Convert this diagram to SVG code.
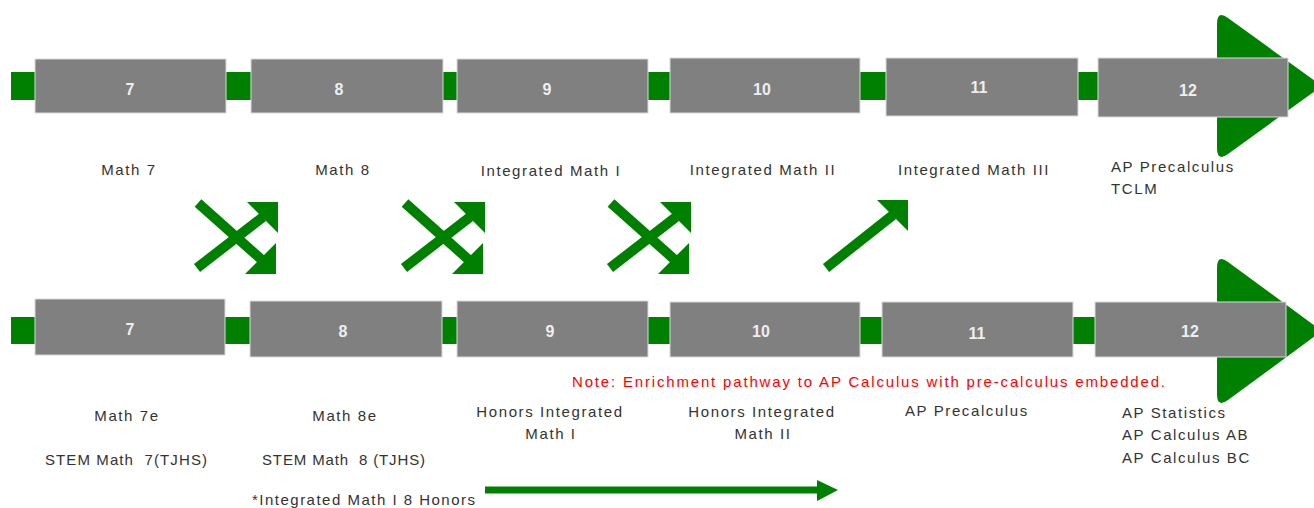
<svg xmlns="http://www.w3.org/2000/svg" width="1314" height="508" viewBox="0 0 1314 508">
<style>
.bar{fill:#008000}
.box{fill:#808080;stroke:#d9d9d9;stroke-width:1}
.num{font-family:"Liberation Sans",Arial,sans-serif;font-size:16px;font-weight:bold;fill:#eeeeee;text-anchor:middle}
.lbl{font-family:"Liberation Sans",Arial,sans-serif;font-size:15px;fill:#333333;letter-spacing:1.6px;white-space:pre}
.lbs{font-family:"Liberation Sans",Arial,sans-serif;font-size:15px;fill:#333333;white-space:pre}
.c{text-anchor:middle}
.note{font-family:"Liberation Sans",Arial,sans-serif;font-size:15px;fill:#ff0000}
.ln{stroke:#008000;stroke-width:10;fill:none}
.hd{fill:#008000}
</style>
<defs>
<g id="cross">
<line class="ln" x1="198" y1="203" x2="262" y2="260"/>
<polygon class="hd" points="276,274 245,274 276,243"/>
<line class="ln" x1="197" y1="268" x2="263" y2="217"/>
<polygon class="hd" points="278,202 247,202 278,233"/>
</g>
</defs>
<g id="track-top">
<rect class="bar" x="11" y="72" width="1220" height="28"/>
<path class="bar" d="M1217,24 Q1217,10 1228,18 L1322,86 L1228,154 Q1217,162 1217,148 Z"/>
</g>
<g id="track-bottom">
<rect class="bar" x="11" y="317" width="1220" height="27"/>
<path class="bar" d="M1217,268 Q1217,254 1228,262 L1322,331 L1228,400 Q1217,408 1217,394 Z"/>
</g>
<g id="connectors">
<use href="#cross"/>
<use href="#cross" transform="translate(207,0)"/>
<use href="#cross" transform="translate(413,0)"/>
<line class="ln" x1="826" y1="268" x2="893" y2="215"/>
<polygon class="hd" points="908,200 877,200 908,231"/>
<line stroke="#008000" stroke-width="7" x1="485" y1="490" x2="820" y2="490"/>
<polygon class="hd" points="817,480 838,490 817,501"/>
</g>
<g id="top-7"><rect class="box" x="35" y="59" width="191" height="54"/><text class="num" x="130" y="95">7</text><text class="lbl c" x="129" y="175">Math 7</text></g>
<g id="top-8"><rect class="box" x="251" y="59" width="192" height="54"/><text class="num" x="339" y="95">8</text><text class="lbl c" x="343" y="175">Math 8</text></g>
<g id="top-9"><rect class="box" x="457" y="59" width="191" height="54"/><text class="num" x="547" y="95">9</text><text class="lbl c" x="551" y="176">Integrated Math I</text></g>
<g id="top-10"><rect class="box" x="670" y="58" width="190" height="55"/><text class="num" x="762" y="95">10</text><text class="lbl c" x="763" y="175">Integrated Math II</text></g>
<g id="top-11"><rect class="box" x="886" y="58" width="192" height="58"/><text class="num" x="979" y="93">11</text><text class="lbl c" x="974" y="175">Integrated Math III</text></g>
<g id="top-12"><rect class="box" x="1098" y="58" width="190" height="59"/><text class="num" x="1188" y="96">12</text><text class="lbl" x="1111" y="172">AP Precalculus</text><text class="lbl" x="1111" y="194">TCLM</text></g>
<g id="bot-7"><rect class="box" x="35" y="299" width="190" height="56"/><text class="num" x="130" y="335">7</text><text class="lbl c" x="127" y="421">Math 7e</text><text class="lbs" x="45" y="465" textLength="162" lengthAdjust="spacing" xml:space="preserve">STEM Math  7(TJHS)</text></g>
<g id="bot-8"><rect class="box" x="250" y="301" width="192" height="56"/><text class="num" x="343" y="337">8</text><text class="lbl c" x="345" y="421">Math 8e</text><text class="lbs" x="262" y="465" textLength="163" lengthAdjust="spacing" xml:space="preserve">STEM Math  8 (TJHS)</text><text class="lbs" x="252" y="505" textLength="223" lengthAdjust="spacing">*Integrated Math I 8 Honors</text></g>
<g id="bot-9"><rect class="box" x="457" y="301" width="191" height="56"/><text class="num" x="550" y="337">9</text><text class="lbl c" x="550" y="417">Honors Integrated</text><text class="lbl c" x="551" y="439">Math I</text></g>
<g id="bot-10"><rect class="box" x="670" y="302" width="190" height="55"/><text class="num" x="761" y="337">10</text><text class="lbl c" x="762" y="417">Honors Integrated</text><text class="lbl c" x="763" y="439">Math II</text></g>
<g id="bot-11"><rect class="box" x="882" y="302" width="191" height="55"/><text class="num" x="977" y="339">11</text><text class="lbl" x="905" y="416">AP Precalculus</text></g>
<g id="bot-12"><rect class="box" x="1095" y="302" width="191" height="55"/><text class="num" x="1190" y="337">12</text><text class="lbl" x="1122" y="418">AP Statistics</text><text class="lbl" x="1122" y="440">AP Calculus AB</text><text class="lbl" x="1122" y="463">AP Calculus BC</text></g>
<g id="note"><text class="note" x="572" y="387" textLength="593" lengthAdjust="spacing">Note: Enrichment pathway to AP Calculus with pre-calculus embedded.</text></g>
</svg>
